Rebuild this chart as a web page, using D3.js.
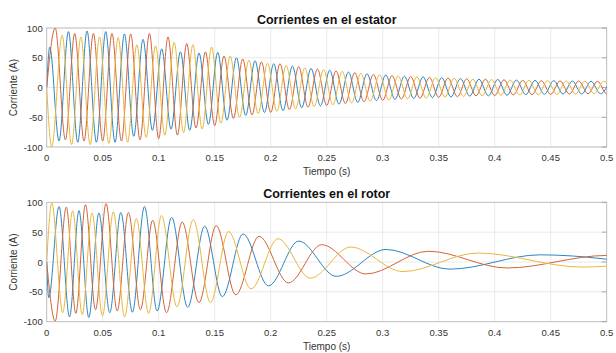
<!DOCTYPE html>
<html>
<head>
<meta charset="utf-8">
<script src="https://cdn.jsdelivr.net/npm/d3@7"></script>
<style>
  body { margin: 0; background: #fff; }
  text { font-family: "Liberation Sans", Arial, sans-serif; }
</style>
</head>
<body>
<div id="chart-area"></div>
<script>
// tick labels
var xTicks = [0, 50, 100, 150, 200, 250, 300, 350, 400, 450, 500];
var xTickLabels = ["0", "0.05", "0.1", "0.15", "0.2", "0.25", "0.3", "0.35", "0.4", "0.45", "0.5"];
var yTicks = [-100, -50, 0, 50, 100];
var yTickLabels = ["-100", "-50", "0", "50", "100"];

// stator currents: extrema (time in ms, current in A)
var statorTimeA = [0, 2.7, 11.0, 19.4, 27.7, 36.0, 44.4, 52.7, 61.0, 69.4, 77.7, 86.0, 94.4, 102.7, 111.0, 119.4, 127.7, 136.0, 144.4, 152.7, 161.0, 169.4, 177.7, 186.0, 194.4, 202.7, 211.0, 219.4, 227.7, 236.0, 244.4, 252.7, 261.0, 269.4, 277.7, 286.0, 294.4, 302.7, 311.0, 319.4, 327.7, 336.0, 344.4, 352.7, 361.0, 369.4, 377.7, 386.0, 394.4, 402.7, 411.0, 419.4, 427.7, 436.0, 444.4, 452.7, 461.0, 469.4, 477.7, 486.0, 494.4, 502.7];
var statorCurA = [0, 68, -90, 94, -92, 95, -92, 94, -92, 90, -82, 81, -72, 65, -70, 60, -72, 58, -62, 59, -55, 50, -47, 45, -42, 40, -39, 36, -34, 32, -31, 29, -28, 26, -25, 23, -22, 21, -20, 19, -18.5, 18, -17, 16.5, -16, 15, -14.5, 14, -14, 13.5, -13, 12.5, -12, 12, -11.5, 11.5, -11, 11, -11, 10.5, -10.5, 10.5];

var statorTimeB = [0, 7.6, 16.7, 25.0, 33.3, 41.7, 50.0, 58.3, 66.7, 75.0, 83.3, 91.7, 100.0, 108.3, 116.7, 125.0, 133.3, 141.7, 150.0, 158.3, 166.7, 175.0, 183.3, 191.7, 200.0, 208.3, 216.7, 225.0, 233.3, 241.7, 250.0, 258.3, 266.7, 275.0, 283.3, 291.7, 300.0, 308.3, 316.7, 325.0, 333.3, 341.7, 350.0, 358.3, 366.7, 375.0, 383.3, 391.7, 400.0, 408.3, 416.7, 425.0, 433.3, 441.7, 450.0, 458.3, 466.7, 475.0, 483.3, 491.7, 500.0, 508.3];
var statorCurB = [0, 100, -88, 91, -90, 91, -90, 91, -90, 90, -88, 91, -86, 85, -80, 74, -68, 60, -64, 53, -52, 48, -46, 43, -42, 40, -37, 35, -33, 31, -30, 28, -27, 25, -24, 22, -21.5, 20, -19.5, 18.5, -18, 17, -16.5, 16, -15.5, 14.5, -14, 14, -13.5, 13, -12.5, 12, -12, 11.5, -11.5, 11, -11, 11, -10.5, 10.5, -10.5, 10.5];

var statorTimeC = [0, 4.5, 13.8, 22.2, 30.5, 38.8, 47.2, 55.5, 63.8, 72.2, 80.5, 88.8, 97.2, 105.5, 113.8, 122.2, 130.5, 138.8, 147.2, 155.5, 163.8, 172.2, 180.5, 188.8, 197.2, 205.5, 213.8, 222.2, 230.5, 238.8, 247.2, 255.5, 263.8, 272.2, 280.5, 288.8, 297.2, 305.5, 313.8, 322.2, 330.5, 338.8, 347.2, 355.5, 363.8, 372.2, 380.5, 388.8, 397.2, 405.5, 413.8, 422.2, 430.5, 438.8, 447.2, 455.5, 463.8, 472.2, 480.5, 488.8, 497.2, 505.5];
var statorCurC = [0, -100, 88, -96, 85, -96, 85, -94, 84, -92, 72, -84, 70, -80, 76, -76, 72, -70, 68, -60, 53, -50, 46, -44, 41, -40, 37, -36, 33, -32, 30, -29, 27, -26, 24, -23, 21.5, -21, 19.5, -19, 18, -18, 16.5, -16, 15.5, -15, 14, -14, 13.5, -13, 12.5, -12.5, 12, -12, 11.5, -11.5, 11, -11, 10.5, -10.5, 10.5, -10.5];

// rotor currents: extrema (time in ms, current in A)
var rotorTimeA = [0, 1.8, 11.0, 20.4, 28.8, 37.6, 46.6, 56.3, 66.2, 76.5, 87.3, 98.6, 111.5, 125.9, 141.0, 156.8, 175.3, 198.0, 225.0, 258.5, 303.0, 360, 440.5, 555];
var rotorCurA = [0, -60, 93, -92, 86, -93, 82, -85, 83, -84, 93, -82, 75, -76, 60, -58, 47, -40, 35, -24, 21, -12, 12, -10];

var rotorTimeB = [0, 7.6, 17.5, 26.0, 34.6, 43.6, 53.0, 62.9, 73.0, 83.7, 94.6, 107.0, 121.0, 135.9, 151.3, 168.8, 189.5, 215.8, 245.5, 285, 340.7, 411, 500, 620];
var rotorCurB = [0, -99, 92, -86, 96, -80, 98, -82, 83, -80, 70, -85, 67, -68, 61, -55, 43, -35, 29, -20, 18, -10, 11, -9];

var rotorTimeC = [0, 4.5, 14.3, 23.2, 31.7, 40.5, 49.8, 59.5, 69.6, 80.0, 91.0, 102.5, 116.3, 130.8, 146.2, 162.3, 182.4, 206.5, 235.3, 271.4, 318, 385, 478, 565];
var rotorCurC = [0, 99, -85, 86, -88, 82, -90, 84, -92, 73, -86, 78, -75, 71, -68, 51, -45, 39, -27, 25, -16, 15, -8.5, 10];

var phaseColors = ["#2b86c0", "#d0643a", "#e9b63e"];

var width = 616;
var height = 353;

var svg = d3.select("#chart-area")
            .append("svg")
            .attr("width", width)
            .attr("height", height)
            .style("display", "block");

svg.append("rect")
   .attr("width", width)
   .attr("height", height)
   .attr("fill", "#fff");

var x = d3.scaleLinear()
          .domain([0, 500])
          .range([46.7, 606.7]);

function drawPanel(id, top, bottom, title, series) {
  var y = d3.scaleLinear()
            .domain([-100, 100])
            .range([bottom, top]);

  var g = svg.append("g").attr("class", "panel");

  svg.append("clipPath")
     .attr("id", "clip-" + id)
     .append("rect")
     .attr("x", x(0))
     .attr("y", top)
     .attr("width", x(500) - x(0))
     .attr("height", bottom - top);

  // grid
  g.selectAll(".xgrid")
   .data(xTicks)
   .enter().append("line")
   .attr("x1", (d) => x(d)).attr("x2", (d) => x(d))
   .attr("y1", top).attr("y2", bottom)
   .attr("stroke", "#e3e3e3")
   .attr("stroke-width", 0.8);

  g.selectAll(".ygrid")
   .data(yTicks)
   .enter().append("line")
   .attr("x1", x(0)).attr("x2", x(500))
   .attr("y1", (d) => y(d)).attr("y2", (d) => y(d))
   .attr("stroke", "#e3e3e3")
   .attr("stroke-width", 0.8);

  // box
  g.append("rect")
   .attr("x", x(0))
   .attr("y", top)
   .attr("width", x(500) - x(0))
   .attr("height", bottom - top)
   .attr("fill", "none")
   .attr("stroke", "#b8b8b8")
   .attr("stroke-width", 0.8);

  // inner tick marks on the right edge
  g.selectAll(".rtick")
   .data(yTicks)
   .enter().append("line")
   .attr("x1", x(500) - 5).attr("x2", x(500))
   .attr("y1", (d) => y(d)).attr("y2", (d) => y(d))
   .attr("stroke", "#999")
   .attr("stroke-width", 0.8);

  var line = d3.line()
               .x((d) => x(d[0]))
               .y((d) => y(d[1]))
               .curve(d3.curveMonotoneX);

  g.append("g")
   .attr("clip-path", "url(#clip-" + id + ")")
   .selectAll("path")
   .data(series)
   .enter().append("path")
   .attr("d", (s) => line(s.t.map((t, i) => [t, s.v[i]])))
   .attr("fill", "none")
   .attr("stroke", (s, i) => phaseColors[i])
   .attr("stroke-width", 1);

  // tick labels
  g.selectAll(".xlab")
   .data(xTicks)
   .enter().append("text")
   .attr("x", (d) => x(d))
   .attr("y", bottom + 14)
   .attr("text-anchor", "middle")
   .attr("font-size", "9.5px")
   .attr("fill", "#333")
   .text((d, i) => xTickLabels[i]);

  g.selectAll(".ylab")
   .data(yTicks)
   .enter().append("text")
   .attr("x", x(0) - 4)
   .attr("y", (d) => y(d) + 3.5)
   .attr("text-anchor", "end")
   .attr("font-size", "9.5px")
   .attr("fill", "#333")
   .text((d, i) => yTickLabels[i]);

  g.append("text")
   .attr("x", (x(0) + x(500)) / 2)
   .attr("y", top - 4.5)
   .attr("text-anchor", "middle")
   .attr("font-size", "12.5px")
   .attr("font-weight", "bold")
   .attr("fill", "#111")
   .text(title);

  g.append("text")
   .attr("x", (x(0) + x(500)) / 2)
   .attr("y", bottom + 28)
   .attr("text-anchor", "middle")
   .attr("font-size", "10px")
   .attr("fill", "#333")
   .text("Tiempo (s)");

  g.append("text")
   .attr("transform", "translate(17," + ((top + bottom) / 2) + ") rotate(-90)")
   .attr("text-anchor", "middle")
   .attr("font-size", "10px")
   .attr("fill", "#333")
   .text("Corriente (A)");
}

drawPanel("stator", 28, 147, "Corrientes en el estator", [
  {t: statorTimeA, v: statorCurA},
  {t: statorTimeB, v: statorCurB},
  {t: statorTimeC, v: statorCurC}
]);

drawPanel("rotor", 202.3, 321.7, "Corrientes en el rotor", [
  {t: rotorTimeA, v: rotorCurA},
  {t: rotorTimeB, v: rotorCurB},
  {t: rotorTimeC, v: rotorCurC}
]);
</script>
</body>
</html>
